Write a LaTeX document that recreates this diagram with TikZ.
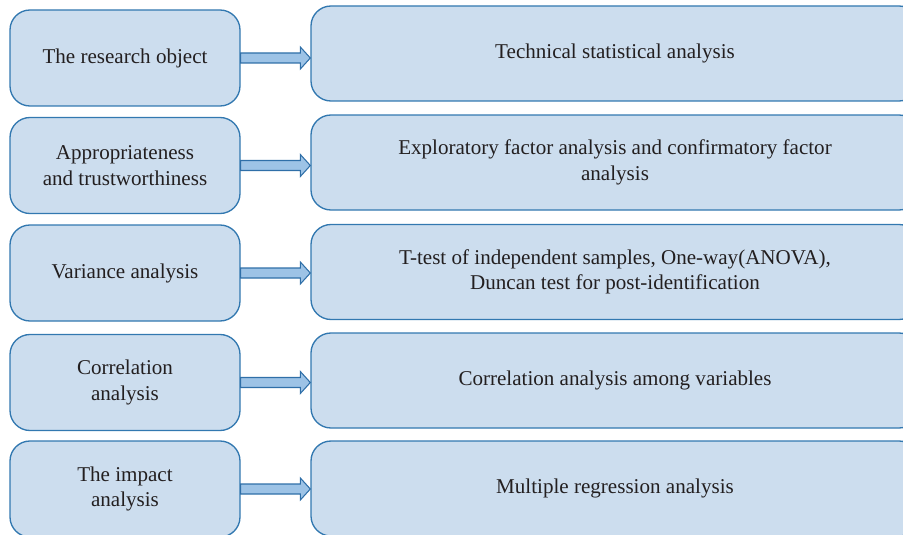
\documentclass[tikz,border=0pt]{standalone}
\usepackage{fontspec}
\setmainfont{Liberation Serif}
\usepackage{xcolor}
\usepackage{tikz}
\usetikzlibrary{calc, positioning}

\definecolor{boxfill}{HTML}{CCDDEE}
\definecolor{boxline}{HTML}{3278B0}
\definecolor{arrowfill}{HTML}{9DC3E6}
\definecolor{arrowline}{HTML}{2F6FA8}
\definecolor{textgray}{HTML}{231F20}

\begin{document}
\begin{tikzpicture}[x=0.75pt, y=-0.75pt,
    stagebox/.style={draw=boxline, fill=boxfill, line width=1pt, rounded corners=15pt,
        align=center, text=textgray, inner sep=0pt, font=\fontsize{15.8}{19}\selectfont},
    leftbox/.style={stagebox, minimum width=172.5pt, minimum height=72pt},
    rightbox/.style={stagebox, minimum width=456pt, minimum height=71.25pt},
    blockarrow/.style={draw=arrowline, fill=arrowfill, line width=0.8pt, line join=miter}]
                % 1. Khung hình
                \useasboundingbox (0,0) rectangle (903,535);
                \clip (0,0) rectangle (903,535);
                
                % 2. Các hộp bên trái và bên phải
                \foreach \i/\ly/\ry/\lt/\rt in {
                    1/58/53.5/{The research object}/{Technical statistical analysis},
                    2/165.5/162.5/{Appropriateness\\and trustworthiness}/{Exploratory factor analysis and confirmatory factor\\analysis},
                    3/273/272/{Variance analysis}/{T-test of independent samples, One-way(ANOVA),\\Duncan test for post-identification},
                    4/382.5/380.5/{Correlation\\analysis}/{Correlation analysis among variables},
                    5/489/488.5/{The impact\\analysis}/{Multiple regression analysis}} {
                    \node[leftbox] (l\i) at (125,\ly) {\lt};
                    \node[rightbox] (r\i) at (615,\ry) {\rt};
                    
                    % 3. Mũi tên khối
                    \draw[blockarrow] ($(l\i.east)+(0,-5)$) -- ($(r\i.west |- l\i.east)+(-10,-5)$)
                        -- ($(r\i.west |- l\i.east)+(-10,-11)$) -- (r\i.west |- l\i.east)
                        -- ($(r\i.west |- l\i.east)+(-10,11)$) -- ($(r\i.west |- l\i.east)+(-10,5)$)
                        -- ($(l\i.east)+(0,5)$) -- cycle;
                }
            \end{tikzpicture}
\end{document}
